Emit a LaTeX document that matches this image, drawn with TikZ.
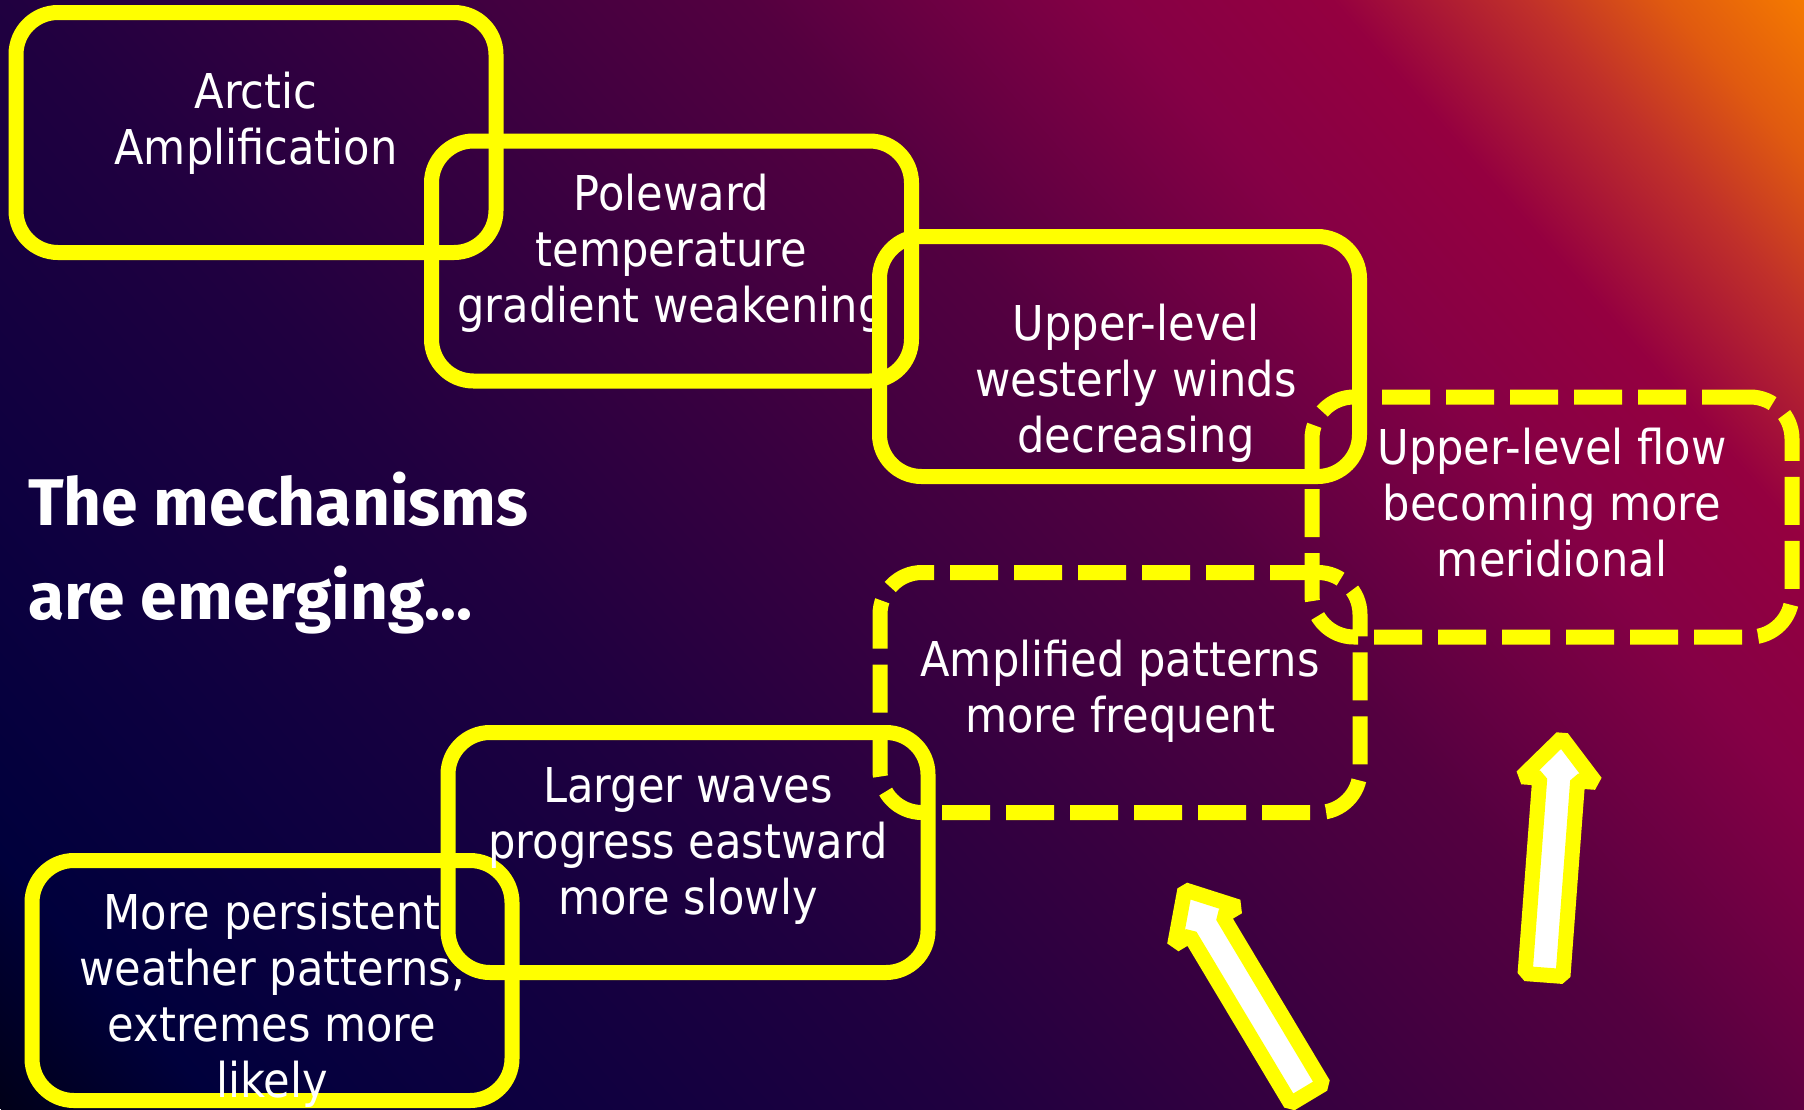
\documentclass[tikz,border=0pt]{standalone}
\usepackage{fontspec}
\usepackage{xcolor}
\usepackage{tikz}

\newfontfamily\boxfont{DejaVu Sans}[FakeStretch=0.9]
\newfontfamily\titlefont{Fira Sans}

\definecolor{yell}{HTML}{FFFF00}
\definecolor{bgA}{HTML}{000018}
\definecolor{bgB}{HTML}{00003C}
\definecolor{bgC}{HTML}{0E0040}
\definecolor{bgD}{HTML}{200040}
\definecolor{bgE}{HTML}{380040}
\definecolor{bgF}{HTML}{540040}
\definecolor{bgG}{HTML}{850045}
\definecolor{bgH}{HTML}{950040}
\definecolor{bgI}{HTML}{C0302A}
\definecolor{bgJ}{HTML}{E05A10}
\definecolor{bgK}{HTML}{F57A00}

% background: 0bp = lower left corner, 100bp = upper right corner
\pgfdeclarehorizontalshading{bgshade}{100bp}{color(0bp)=(bgA); color(8bp)=(bgB);
  color(20bp)=(bgC); color(35bp)=(bgD); color(48bp)=(bgE); color(62bp)=(bgF);
  color(75bp)=(bgG); color(83bp)=(bgH); color(90bp)=(bgI); color(95bp)=(bgJ);
  color(100bp)=(bgK)}

\begin{document}
\begin{tikzpicture}[x=1pt,y=-1pt,
  box/.style={draw=yell,line width=15pt,rounded corners=42pt,minimum width=480pt,minimum height=240pt,inner sep=0pt},
  dbox/.style={box,dash pattern=on 48pt off 16pt},
  txt/.style={text=white,align=center,inner sep=0pt,font=\boxfont\fontsize{48}{56}\selectfont},
  blockarrow/.style={fill=white,draw=yell,line width=15pt,line join=bevel}]

  % Background
  \useasboundingbox (0,0) rectangle (1804,1109);
  \begin{scope}
    \clip (0,0) rectangle (1804,1109);
    \begin{scope}[transform canvas={shift={(902,554.5)},rotate=41.21,xscale=20.80,yscale=24}]
      \pgfuseshading{bgshade}
    \end{scope}
  \end{scope}

  % Chain of boxes
  \node[box] (arctic) at (256,132.5) {};
  \node[txt] (arcticT) at (256,123.5) {Arctic\\Amplification};

  \node[box] (grad) at (671.5,261) {};
  \node[txt] (gradT) at (671.5,253.5) {Poleward\\temperature\\gradient weakening};

  \node[box] (winds) at (1119.5,356.5) {};
  \node[txt] (windsT) at (1136,383) {Upper-level\\westerly winds\\decreasing};

  \node[dbox] (flow) at (1552,517) {};
  \node[txt] (flowT) at (1552,503) {Upper-level flow\\becoming more\\meridional};

  \node[dbox] (ampl) at (1120,692.5) {};
  \node[txt] (amplT) at (1120,691.5) {Amplified patterns\\more frequent};

  \node[box] (persist) at (272,980.5) {};
  \node[txt] (persistT) at (272,1000) {More persistent\\weather patterns,\\extremes more\\likely};

  \node[box] (waves) at (688,852.5) {};
  \node[txt] (wavesT) at (688,845.5) {Larger waves\\progress eastward\\more slowly};

  % Title
  \node[text=white,anchor=north west,inner sep=0pt,align=left,
    font=\titlefont\bfseries\fontsize{66}{94}\selectfont] (title) at (28,472) {The mechanisms\\are emerging…};

  % Block arrows
  \begin{scope}[shift={(1307,1094)},rotate=30.9]
    \draw[blockarrow] (-19,0) -- (19,0) -- (19,-196) -- (37,-196) -- (0,-238)
      -- (-37,-196) -- (-19,-196) -- cycle;
  \end{scope}
  \begin{scope}[shift={(1544,975)},rotate=-4.3]
    \draw[blockarrow] (-19,0) -- (19,0) -- (19,-196) -- (37,-196) -- (0,-238)
      -- (-37,-196) -- (-19,-196) -- cycle;
  \end{scope}
\end{tikzpicture}
\end{document}
